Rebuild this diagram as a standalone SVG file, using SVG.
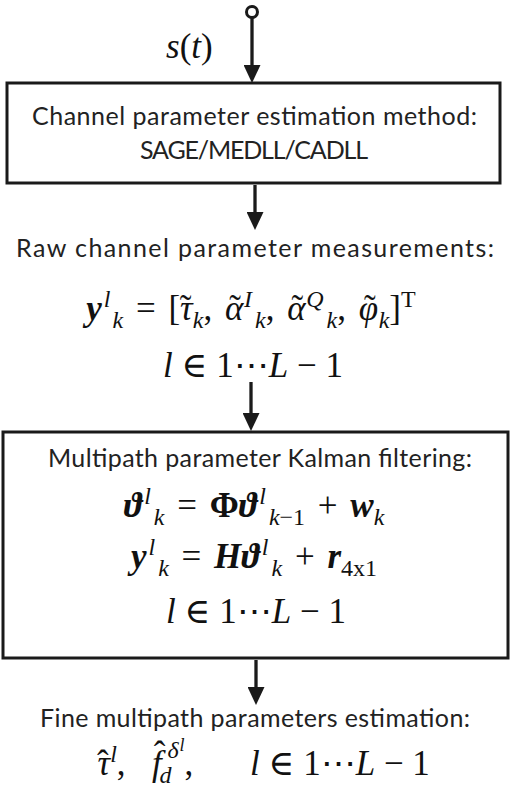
<svg xmlns="http://www.w3.org/2000/svg" width="512" height="792" viewBox="0 0 512 792">
<defs>
<style>
.box{fill:#fff;stroke:#1a1a1a;stroke-width:3}
.conn{stroke:#1a1a1a;stroke-width:3.3;fill:none}
.t{font-family:Lato,"Liberation Sans",Arial,sans-serif;font-size:25px;fill:#222}
.m{font-family:"Liberation Serif","DejaVu Serif",serif;font-size:35px;fill:#111}
.w{word-spacing:4px}
.i{font-style:italic}
.b{font-weight:bold}
.s{font-size:24px}
.ss{font-size:18px}
</style>
<marker id="ah" viewBox="0 0 18 17" refX="8" refY="8.5" markerWidth="18" markerHeight="17" markerUnits="userSpaceOnUse" orient="auto">
<path d="M0,0 L18,8.5 L0,17 z" fill="#1a1a1a"/>
</marker>
</defs>
<rect width="512" height="792" fill="#fff"/>

<g id="connectors">
<circle cx="252" cy="12" r="5.5" fill="#fff" stroke="#1a1a1a" stroke-width="3"/>
<line class="conn" x1="252" y1="18" x2="252" y2="73" marker-end="url(#ah)"/>
<line class="conn" x1="255" y1="185" x2="255" y2="220" marker-end="url(#ah)"/>
<line class="conn" x1="251" y1="382" x2="251" y2="421" marker-end="url(#ah)"/>
<line class="conn" x1="256" y1="660" x2="256" y2="695" marker-end="url(#ah)"/>
</g>

<g id="input">
<text class="m" x="166" y="58"><tspan class="i">s</tspan>(<tspan class="i">t</tspan>)</text>
</g>

<g id="estimation">
<rect class="box" x="7" y="83" width="493" height="100"/>
<text class="t" x="254.5" y="125" text-anchor="middle" textLength="445">Channel parameter estimation method:</text>
<text class="t" x="254" y="159" text-anchor="middle" textLength="228">SAGE/MEDLL/CADLL</text>
</g>

<g id="raw">
<text class="t" x="255" y="257" text-anchor="middle" textLength="478">Raw channel parameter measurements:</text>
<text class="m w" x="251" y="320" text-anchor="middle"><tspan class="b i">y</tspan><tspan class="i s" dx="2" dy="-13">l</tspan><tspan class="i s" dy="21" dx="2">k</tspan><tspan dy="-8"> = [</tspan><tspan class="i">τ</tspan><tspan dx="-13">˜</tspan><tspan class="i s" dx="1.5" dy="8">k</tspan><tspan dy="-8">, </tspan><tspan class="i">α</tspan><tspan dx="-14">˜</tspan><tspan class="i s" dx="3" dy="-13">I</tspan><tspan class="i s" dy="21" dx="3">k</tspan><tspan dy="-8">, </tspan><tspan class="i">α</tspan><tspan dx="-14">˜</tspan><tspan class="i s" dx="3" dy="-13">Q</tspan><tspan class="i s" dy="21" dx="3">k</tspan><tspan dy="-8">, </tspan><tspan class="i">φ</tspan><tspan dx="-14">˜</tspan><tspan class="i s" dx="3" dy="8">k</tspan><tspan dy="-8">]</tspan><tspan class="s" dy="-13">T</tspan></text>
<text class="m" x="253" y="377" text-anchor="middle"><tspan class="i">l</tspan> ∈ 1⋯<tspan class="i">L</tspan> − 1</text>
</g>

<g id="kalman">
<rect class="box" x="3" y="432" width="505" height="226"/>
<text class="t" x="260" y="467" text-anchor="middle" textLength="424">Multipath parameter Kalman filtering:</text>
<text class="m w" x="254" y="517" text-anchor="middle"><tspan class="b i">ϑ</tspan><tspan class="i s" dx="2" dy="-13">l</tspan><tspan class="i s" dy="21" dx="3">k</tspan><tspan dy="-8"> = </tspan><tspan class="b">Φ</tspan><tspan class="b i">ϑ</tspan><tspan class="i s" dx="2" dy="-13">l</tspan><tspan class="s" dy="21" dx="3"><tspan class="i">k</tspan>−1</tspan><tspan dy="-8"> + </tspan><tspan class="b i">w</tspan><tspan class="i s" dy="8">k</tspan></text>
<text class="m w" x="254" y="568" text-anchor="middle"><tspan class="b i">y</tspan><tspan class="i s" dx="2" dy="-13">l</tspan><tspan class="i s" dy="21" dx="3">k</tspan><tspan dy="-8"> = </tspan><tspan class="b i">Hϑ</tspan><tspan class="i s" dx="2" dy="-13">l</tspan><tspan class="i s" dy="21" dx="3">k</tspan><tspan dy="-8"> + </tspan><tspan class="b i">r</tspan><tspan class="s" dy="8">4x1</tspan></text>
<text class="m" x="256" y="623" text-anchor="middle"><tspan class="i">l</tspan> ∈ 1⋯<tspan class="i">L</tspan> − 1</text>
</g>

<g id="fine">
<text class="t" x="255" y="727" text-anchor="middle" textLength="430">Fine multipath parameters estimation:</text>
<text class="m" x="97" y="775"><tspan class="i">τ</tspan><tspan dx="-13">ˆ</tspan><tspan class="i s" dx="1.5" dy="-13">l</tspan><tspan dy="13">,</tspan></text>
<text class="m" x="152" y="775"><tspan class="i">f</tspan><tspan dx="-8" dy="-9">ˆ</tspan><tspan class="i s" dx="-6" dy="17">d</tspan><tspan class="i s" dx="-4" dy="-25">δ</tspan><tspan class="i ss" dx="1" dy="-7">l</tspan><tspan dy="24">,</tspan></text>
<text class="m" x="250" y="775"><tspan class="i">l</tspan> ∈ 1⋯<tspan class="i">L</tspan> − 1</text>
</g>
</svg>
